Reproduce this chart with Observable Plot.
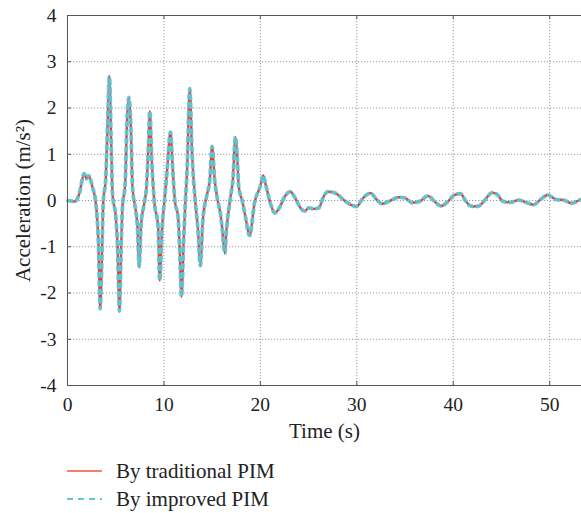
<!DOCTYPE html>
<html>
<head>
<meta charset="utf-8">
<script src="https://cdn.jsdelivr.net/npm/d3@7"></script>
<script src="https://cdn.jsdelivr.net/npm/@observablehq/plot@0.6"></script>
<style>
  html, body { margin: 0; padding: 0; background: #fff; }
  body { width: 581px; height: 513px; overflow: hidden; font-family: "Liberation Serif", serif; }
  #chart svg text { font-family: "Liberation Serif", serif !important; font-size: 19.5px !important; fill: #222; }
  #chart svg g[aria-label="x-axis label"] text, #chart svg g[aria-label="y-axis label"] text { font-size: 21px !important; }
  #legend { margin-top: 12px; }
  .row { height: 28px; display: flex; align-items: center; }
  .row svg { margin-left: 67px; margin-right: 14px; }
  .row span { font-size: 21px; color: #222; }
</style>
</head>
<body>
<div id="chart"></div>
<div id="legend"></div>
<script>
const time = [0,0.8,1.21,1.73,1.97,2.18,2.59,2.94,3.21,3.39,3.56,3.7,3.97,4.15,4.35,4.53,4.67,5.01,5.18,5.39,5.53,5.7,5.98,6.15,6.36,6.57,6.74,7.08,7.26,7.43,7.64,7.95,8.19,8.4,8.53,8.74,8.99,9.4,9.56,9.81,10.09,10.33,10.68,10.92,11.13,11.47,11.64,11.82,12.06,12.23,12.4,12.68,12.92,13.27,13.51,13.79,14.03,14.48,14.75,14.99,15.27,15.51,15.86,16.03,16.31,16.48,16.9,17.14,17.42,17.6,17.76,18.11,18.45,18.88,19.4,20.01,20.29,20.53,21.05,21.49,21.91,22.6,23.12,23.64,24.16,24.6,25.02,25.53,26.05,26.57,26.99,27.78,28.65,29.34,29.95,30.72,31.41,32.1,32.62,33.31,34.35,35.04,35.73,36.6,37.36,38.16,38.74,39.36,40.05,40.74,41.26,41.71,42.13,42.65,43.24,44.04,44.55,45.17,45.93,46.79,47.66,48.35,49.04,49.79,50.69,51.45,52.25,53.0,53.3];
const traditional = [0,-0.02,0.14,0.58,0.47,0.54,0.29,-0.07,-0.94,-2.34,-1.3,-0.07,0.5,1.59,2.68,1.23,0.14,-0.36,-0.94,-2.39,-1.3,-0.14,0.36,1.59,2.23,1.59,0.29,-0.22,-0.58,-1.43,-0.5,-0.07,0.29,1.23,1.93,0.86,0,-0.58,-1.73,-0.58,0.07,0.65,1.48,0.65,0,-0.36,-1.08,-2.08,-0.79,0,0.65,2.42,1.01,-0.07,-0.58,-1.41,-0.43,0.14,0.43,1.17,0.43,0.07,-0.29,-0.58,-1.14,-0.65,0.07,0.43,1.37,0.94,0.29,0,-0.35,-0.76,-0.05,0.32,0.54,0.36,-0.07,-0.27,-0.18,0.11,0.19,0.04,-0.16,-0.23,-0.16,-0.18,-0.16,0.09,0.19,0.16,0.01,-0.09,-0.13,0.07,0.16,0.01,-0.07,-0.02,0.07,0.05,-0.05,-0.01,0.1,-0.04,-0.12,-0.04,0.11,0.15,0,-0.11,-0.13,-0.12,0,0.17,0.13,-0.02,-0.04,0.01,-0.05,-0.09,0.02,0.12,0.02,0.01,-0.06,0,0.03];
const improved = [0,-0.02,0.14,0.58,0.47,0.54,0.29,-0.07,-0.94,-2.34,-1.3,-0.07,0.5,1.59,2.68,1.23,0.14,-0.36,-0.94,-2.39,-1.3,-0.14,0.36,1.59,2.23,1.59,0.29,-0.22,-0.58,-1.43,-0.5,-0.07,0.29,1.23,1.93,0.86,0,-0.58,-1.73,-0.58,0.07,0.65,1.48,0.65,0,-0.36,-1.08,-2.08,-0.79,0,0.65,2.42,1.01,-0.07,-0.58,-1.41,-0.43,0.14,0.43,1.17,0.43,0.07,-0.29,-0.58,-1.14,-0.65,0.07,0.43,1.37,0.94,0.29,0,-0.35,-0.76,-0.05,0.32,0.54,0.36,-0.07,-0.27,-0.18,0.11,0.19,0.04,-0.16,-0.23,-0.16,-0.18,-0.16,0.09,0.19,0.16,0.01,-0.09,-0.13,0.07,0.16,0.01,-0.07,-0.02,0.07,0.05,-0.05,-0.01,0.1,-0.04,-0.12,-0.04,0.11,0.15,0,-0.11,-0.13,-0.12,0,0.17,0.13,-0.02,-0.04,0.01,-0.05,-0.09,0.02,0.12,0.02,0.01,-0.06,0,0.03];
const xTicks = [0,10,20,30,40,50];
const yTicks = [-4,-3,-2,-1,0,1,2,3,4];
const seriesNames = ["By traditional PIM", "By improved PIM"];
const seriesColors = ["#e43f3a", "#5ec6d3"];
const legendColors = ["#f0553a", "#2fb8b8"];

const tradData = time.map((t, i) => ({t, a: traditional[i]}));
const impData = time.map((t, i) => ({t, a: improved[i]}));

const plotH = 370, plotW = 514, tk = 4;
const axisColor = "#555";
const gridStyle = {stroke: "#9a9a9a", strokeOpacity: 1, strokeDasharray: "1.2,1.8", strokeWidth: 1};
const xDomain = [0, 53.3];
const yDomain = [-4, 4];

const chart = Plot.plot({
  width: 581,
  height: 445,
  marginTop: 15,
  marginLeft: 67,
  marginRight: 0,
  marginBottom: 60,
  x: {domain: xDomain},
  y: {domain: yDomain},
  marks: [
    Plot.gridX(xTicks, gridStyle),
    Plot.gridY(yTicks, gridStyle),
    Plot.tickX(xTicks, {x: d => d, stroke: axisColor, insetTop: plotH - tk}),
    Plot.tickX(xTicks, {x: d => d, stroke: axisColor, insetBottom: plotH - tk}),
    Plot.tickY(yTicks, {y: d => d, stroke: axisColor, insetRight: plotW - tk}),
    Plot.axisX(xTicks, {tickSize: 0, tickPadding: 12, tickFormat: d => String(d), label: "Time (s)", labelAnchor: "center", labelArrow: "none", labelOffset: 52}),
    Plot.axisY(yTicks, {tickSize: 0, tickPadding: 11, tickFormat: d => String(d), label: "Acceleration (m/s²)", labelAnchor: "center", labelArrow: "none", labelOffset: 52}),
    Plot.line(tradData, {x: "t", y: "a", stroke: seriesColors[0], strokeWidth: 2.4, curve: "monotone-x"}),
    Plot.line(impData, {x: "t", y: "a", stroke: seriesColors[1], strokeWidth: 3.8, strokeDasharray: "6,2.5", strokeLinecap: "butt", strokeOpacity: 0.95, curve: "monotone-x"}),
    Plot.ruleY([yDomain[0], yDomain[1]], {stroke: axisColor}),
    Plot.ruleX([xDomain[0]], {stroke: axisColor})
  ]
});
document.getElementById("chart").append(chart);

const legend = document.getElementById("legend");
seriesNames.forEach((name, i) => {
  const row = document.createElement("div");
  row.className = "row";
  const dash = i === 1 ? ' stroke-dasharray="6,5"' : '';
  row.innerHTML = `<svg width="35" height="6"><line x1="0" y1="3" x2="35" y2="3" stroke="${legendColors[i]}" stroke-width="1.5"${dash}/></svg><span>${name}</span>`;
  legend.append(row);
});
</script>
</body>
</html>
